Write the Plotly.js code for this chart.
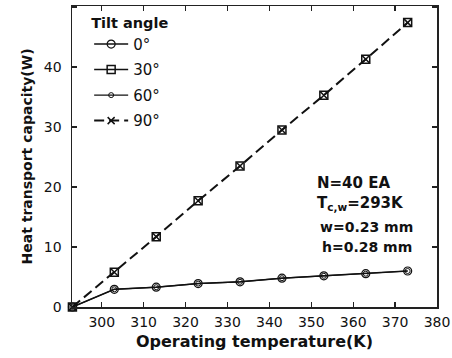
<!DOCTYPE html>
<html>
<head>
<meta charset="utf-8">
<script src="https://cdn.plot.ly/plotly-3.0.1.min.js"></script>
<style>html,body{margin:0;padding:0;background:#fff;}#chart{width:452px;height:358px;}</style>
</head>
<body>
<div id="chart"></div>
<script>
var temperature = [293, 303, 313, 323, 333, 343, 353, 363, 373];
var tilt0  = [0, 2.95, 3.3, 3.9, 4.2, 4.8, 5.2, 5.55, 6.0];
var tilt30 = [0, 5.8, 11.7, 17.7, 23.5, 29.5, 35.3, 41.3, 47.4];
var tilt60 = [0, 2.95, 3.3, 3.9, 4.2, 4.8, 5.2, 5.55, 6.0];
var tilt90 = [0, 5.8, 11.7, 17.7, 23.5, 29.5, 35.3, 41.3, 47.4];
var xTicks = [300, 310, 320, 330, 340, 350, 360, 370, 380];
var yTicks = [0, 10, 20, 30, 40, 50];
var legendNames = ['0°', '30°', '60°', '90°'];

var BODY = 'DejaVu Sans, Arial, sans-serif';
var traces = [
  {x: temperature, y: tilt0, name: legendNames[0], legendgroup: 'g0', mode: 'lines+markers', cliponaxis: false,
   line: {color: '#111', width: 1.5}, marker: {symbol: 'circle-open', size: 8, color: '#111', line: {width: 1.2}}},
  {x: temperature, y: tilt30, name: legendNames[1], mode: 'markers', cliponaxis: false, showlegend: false, legendgroup: 'g30',
   marker: {symbol: 'square-open', size: 8, color: '#111', line: {width: 1.5}}},
  {x: [null], y: [null], name: legendNames[1], mode: 'lines+markers', legendgroup: 'g30',
   line: {color: '#111', width: 1.5}, marker: {symbol: 'square-open', size: 8, color: '#111', line: {width: 1.5}}},
  {x: temperature, y: tilt60, name: legendNames[2], legendgroup: 'g60', mode: 'lines+markers', cliponaxis: false,
   line: {color: '#111', width: 1.2}, marker: {symbol: 'circle-open', size: 5, color: '#111', line: {width: 1}}},
  {x: temperature, y: tilt90, name: legendNames[3], legendgroup: 'g90', mode: 'lines+markers', cliponaxis: false,
   line: {color: '#111', width: 2, dash: '10px,5px'}, marker: {symbol: 'x-thin-open', size: 7, color: '#111', line: {width: 1.5, color: '#111'}}}
];

var axisCommon = {
  showline: true, linecolor: '#222', linewidth: 1.5, mirror: 'allticks',
  ticks: 'inside', ticklen: 5, tickwidth: 1.2, tickcolor: '#222',
  showgrid: false, zeroline: false,
  tickfont: {family: BODY, size: 14, color: '#111'}
};

var layout = {
  width: 452, height: 358,
  margin: {l: 72, r: 15, t: 6, b: 51},
  paper_bgcolor: '#fff', plot_bgcolor: '#fff',
  showlegend: true,
  xaxis: Object.assign({}, axisCommon, {
    range: [292.9, 380], tickmode: 'array', tickvals: xTicks, ticktext: xTicks.map(String),
    ticklabelstandoff: 2,
    title: {text: '<b>Operating temperature(K)</b>', font: {family: BODY, size: 16, color: '#111'}, standoff: 6}
  }),
  yaxis: Object.assign({}, axisCommon, {
    range: [0, 50.17], tickmode: 'array', tickvals: yTicks, ticktext: yTicks.map(String),
    ticklabelstandoff: 6,
    title: {text: '<b>Heat transport capacity(W)</b>', font: {family: BODY, size: 14, color: '#111'}, standoff: 8}
  }),
  legend: {
    x: 0.047, y: 0.99, xanchor: 'left', yanchor: 'top',
    bgcolor: 'rgba(0,0,0,0)', borderwidth: 0,
    traceorder: 'grouped',
    font: {family: BODY, size: 15, color: '#111'},
    title: {text: '<b>Tilt angle</b>', font: {family: BODY, size: 14.5, color: '#111'}},
    tracegroupgap: 3, itemwidth: 34
  },
  annotations: [
    {text: '<b>N=40 EA</b>', xref: 'paper', yref: 'paper', x: 0.665, y: 0.412, xanchor: 'left', yanchor: 'middle', showarrow: false, font: {family: BODY, size: 15, color: '#111'}},
    {text: '<b>T<sub>c,w</sub>=293K</b>', xref: 'paper', yref: 'paper', x: 0.665, y: 0.345, xanchor: 'left', yanchor: 'middle', showarrow: false, font: {family: BODY, size: 15, color: '#111'}},
    {text: '<b>w=0.23 mm</b>', xref: 'paper', yref: 'paper', x: 0.674, y: 0.266, xanchor: 'left', yanchor: 'middle', showarrow: false, font: {family: BODY, size: 14, color: '#111'}},
    {text: '<b>h=0.28 mm</b>', xref: 'paper', yref: 'paper', x: 0.68, y: 0.199, xanchor: 'left', yanchor: 'middle', showarrow: false, font: {family: BODY, size: 14, color: '#111'}}
  ]
};

Plotly.newPlot('chart', traces, layout, {displayModeBar: false, staticPlot: true});
</script>
</body>
</html>
